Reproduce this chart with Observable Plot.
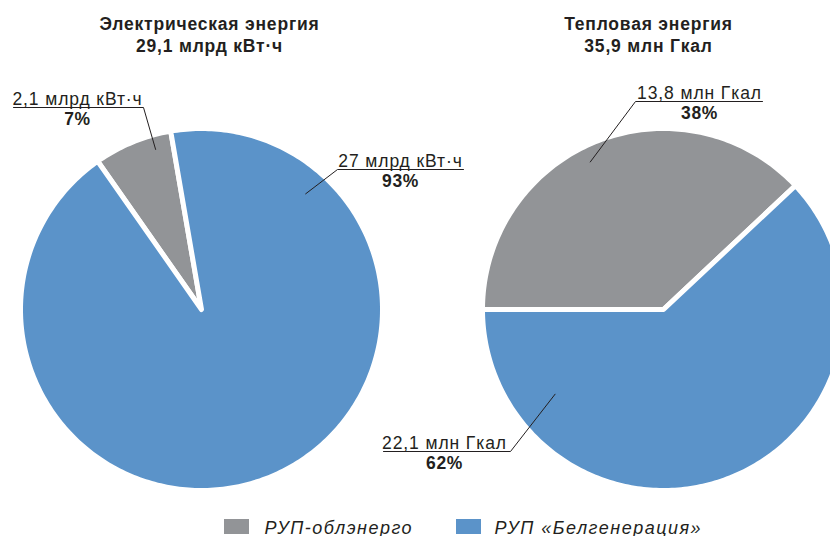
<!DOCTYPE html>
<html>
<head>
<meta charset="utf-8">
<script src="https://cdn.jsdelivr.net/npm/d3@7"></script>
<script src="https://cdn.jsdelivr.net/npm/@observablehq/plot@0.6"></script>
<style>
  html, body { margin: 0; padding: 0; background: #fff; }
  svg { display: block; }
</style>
</head>
<body>
<div id="chart"></div>
<script>
// ---- data ----
const companies = ["РУП-облэнерго", "РУП «Белгенерация»"];
const elecShares = [7, 93];                 // %
const elecValues = ["2,1 млрд кВт·ч", "27 млрд кВт·ч"];
const elecTitle = ["Электрическая энергия", "29,1 млрд кВт·ч"];
const heatShares = [38, 62];                // %
const heatValues = ["13,8 млн Гкал", "22,1 млн Гкал"];
const heatTitle = ["Тепловая энергия", "35,9 млн Гкал"];
const colors = ["#929497", "#5b93c9"];

// ---- layout ----
const W = 830, H = 536;
const deg = Math.PI / 180;
const pies = [
  {id: "elec", shares: elecShares, values: elecValues, title: elecTitle,
   cx: 201, cy: 309, r: 181, start: -35 * deg, titleX: 209,
   labels: [
     {frac: 0.92, ang: -16, elbow: [143, 107], end: [13, 107], tx: 77, ty: 104},
     {frac: 0.86, ang: 42, elbow: [337, 169], end: [463, 169], tx: 400, ty: 166}
   ]},
  {id: "heat", shares: heatShares, values: heatValues, title: heatTitle,
   cx: 663, cy: 309, r: 181, start: -90 * deg, titleX: 648,
   labels: [
     {frac: 0.91, ang: -26.4, elbow: [635, 101], end: [762, 101], tx: 699, ty: 98},
     {frac: 0.76, ang: -128, elbow: [510, 451], end: [383, 451], tx: 444, ty: 448}
   ]}
];

const slicePts = [], leaderPts = [], labelTexts = [], titleTexts = [];
pies.forEach(p => {
  const arcs = d3.pie().sort(null).value(d => d)
    .startAngle(p.start).endAngle(p.start + 2 * Math.PI)(p.shares);
  arcs.forEach((a, i) => {
    const key = p.id + i;
    slicePts.push({key, company: companies[i], x: p.cx, y: p.cy});
    const n = Math.max(2, Math.ceil((a.endAngle - a.startAngle) / deg));
    for (let k = 0; k <= n; k++) {
      const t = a.startAngle + (a.endAngle - a.startAngle) * k / n;
      slicePts.push({key, company: companies[i], x: p.cx + p.r * Math.sin(t), y: p.cy - p.r * Math.cos(t)});
    }
    const L = p.labels[i];
    const t = L.ang * deg;
    leaderPts.push({key, x: p.cx + p.r * L.frac * Math.sin(t), y: p.cy - p.r * L.frac * Math.cos(t)});
    leaderPts.push({key, x: L.elbow[0], y: L.elbow[1]});
    leaderPts.push({key, x: L.end[0], y: L.end[1]});
    labelTexts.push({x: L.tx, y: L.ty, text: p.values[i], bold: false});
    labelTexts.push({x: L.tx, y: L.ty + 20, text: Math.round(a.value) + "%", bold: true});
  });
  titleTexts.push({x: p.titleX, y: 29, text: p.title[0]});
  titleTexts.push({x: p.titleX, y: 51, text: p.title[1]});
});

const legend = companies.map((c, i) => ({company: c, x1: [224, 456][i], tx: [264, 494][i]}));

const font = "Liberation Sans, Arial, Helvetica, sans-serif";
const ink = "#231f20";
const chart = Plot.plot({
  width: W, height: H, margin: 0,
  x: {domain: [0, W], range: [0, W], axis: null},
  y: {domain: [0, H], range: [0, H], axis: null},
  color: {domain: companies, range: colors},
  style: {fontFamily: font, background: "#fff"},
  marks: [
    Plot.line(slicePts, {x: "x", y: "y", z: "key", fill: "company", stroke: "white",
      strokeWidth: 5, strokeLinejoin: "round", curve: "linear-closed"}),
    Plot.line(leaderPts, {x: "x", y: "y", z: "key", stroke: ink, strokeWidth: 1}),
    Plot.text(labelTexts.filter(d => !d.bold), {x: "x", y: "y", text: "text", fontSize: 17.5,
      lineAnchor: "bottom", fill: ink}),
    Plot.text(labelTexts.filter(d => d.bold), {x: "x", y: "y", text: "text", fontSize: 17.5,
      fontWeight: "bold", lineAnchor: "bottom", fill: ink}),
    Plot.text(titleTexts, {x: "x", y: "y", text: "text", fontSize: 17.5, fontWeight: "bold",
      lineAnchor: "bottom", fill: ink}),
    Plot.rect(legend, {x1: "x1", x2: d => d.x1 + 25, y1: 519, y2: 534, fill: "company"}),
    Plot.text(legend, {x: "tx", y: 533, text: "company", textAnchor: "start", fontSize: 18,
      fontStyle: "italic", lineAnchor: "bottom", fill: ink})
  ]
});
document.getElementById("chart").appendChild(chart);

// widen letter spacing to match the reference typeface
const titleSet = new Set([...elecTitle, ...heatTitle]);
const valueSet = new Set([...elecValues, ...heatValues]);
const companySet = new Set(companies);
chart.querySelectorAll("text").forEach(t => {
  const s = t.textContent;
  let ls = null;
  if (titleSet.has(s)) ls = 0.8;
  else if (valueSet.has(s)) ls = 0.9;
  else if (companySet.has(s)) ls = 1.5;
  else if (/%$/.test(s)) ls = 0.6;
  if (ls != null) {
    t.setAttribute("letter-spacing", ls + "px");
    t.style.letterSpacing = ls + "px";
  }
});
</script>
</body>
</html>
